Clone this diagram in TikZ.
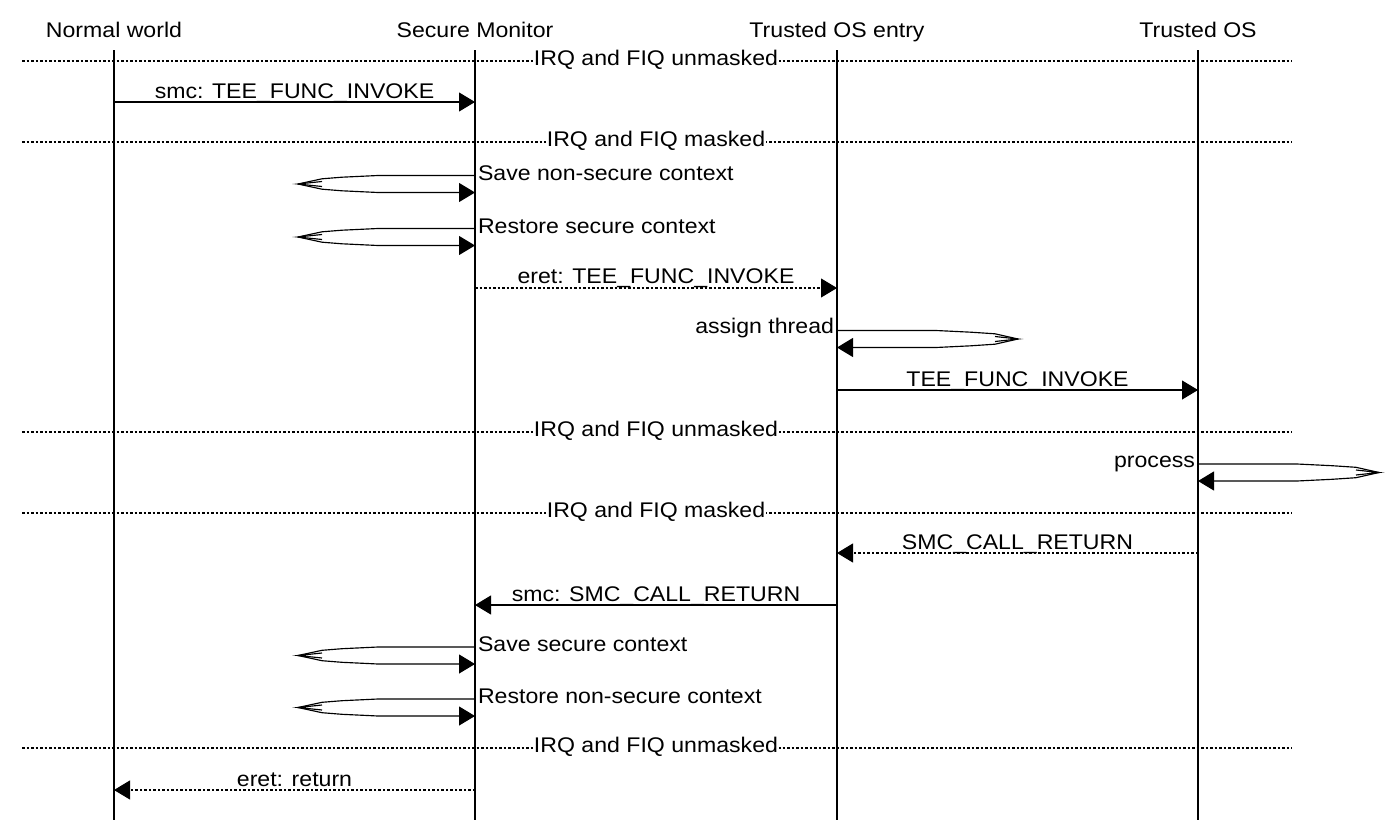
\documentclass[tikz,border=0pt]{standalone}
\usepackage{fontspec}
\setmainfont{Liberation Sans}[FakeStretch=1.09]
\usetikzlibrary{arrows.meta}
\begin{document}
\begin{tikzpicture}[x=1pt,y=-1pt,
  lbl/.style={font=\fontsize{21.2}{25}\selectfont, inner sep=0pt, outer sep=0pt},
  ln/.style={line width=1.15pt},
  tipstyle/.style={-{Triangle[length=16pt,width=19pt]}},
  msg/.style={ln, tipstyle},
  dmsg/.style={ln, tipstyle, dash pattern=on 2.5pt off 2pt},
  sepline/.style={ln, dash pattern=on 2.5pt off 2pt},
  seplbl/.style={lbl, fill=white, inner xsep=1pt, anchor=base},
  loopl/.pic={
    \draw[ln] (0,0) -- (-97,0) -- (-133,1.7) -- (-153,3.3) -- (-177,8.5);
    \draw[ln] (-153,6) -- (-177,8.5) -- (-153,11);
    \draw[msg] (-177,8.5) -- (-153,13.7) -- (-133,15.3) -- (-97,17) -- (0,17);
  },
  loopr/.pic={
    \draw[ln] (0,0) -- (99,0) -- (134,1.7) -- (158,3.3) -- (181,8.5);
    \draw[ln] (158,6) -- (181,8.5) -- (158,11);
    \draw[msg] (181,8.5) -- (158,13.7) -- (134,15.3) -- (99,17) -- (0,17);
  }
]
\useasboundingbox (0,0) rectangle (1400,835);

% headers
\node[lbl, anchor=base] (hnw) at (114,37) {Normal world};
\node[lbl, anchor=base] (hsm) at (475,37) {Secure Monitor};
\node[lbl, anchor=base] (hte) at (837,37) {Trusted OS entry};
\node[lbl, anchor=base] (hto) at (1198,37) {Trusted OS};

% lifelines
\coordinate (nwT) at (114,50);  \coordinate (nwB) at (114,820);
\coordinate (smT) at (475,50);  \coordinate (smB) at (475,820);
\coordinate (teT) at (837,50);  \coordinate (teB) at (837,820);
\coordinate (toT) at (1198,50); \coordinate (toB) at (1198,820);
\draw[ln] (nwT) -- (nwB);
\draw[ln] (smT) -- (smB);
\draw[ln] (teT) -- (teB);
\draw[ln] (toT) -- (toB);

% separators
\foreach \y/\t/\n in {61/unmasked/a, 142/masked/b, 432/unmasked/c, 513/masked/d, 748/unmasked/e}{
  \coordinate (sL\n) at (22,\y);
  \coordinate (sR\n) at (1292,\y);
  \draw[sepline] (sL\n) -- (sR\n);
  \node[seplbl] (sT\n) at (656,\y+4) {IRQ and FIQ \t};
}

% messages
\coordinate (m1a) at (114,102); \coordinate (m1b) at (475,102);
\draw[msg] (m1a) -- (m1b);
\node[lbl, anchor=base] (l1) at (294.5,98) {smc: TEE\_FUNC\_INVOKE};

\pic at (475,175.5) {loopl};
\node[lbl, anchor=base west] (l2) at (478,180) {Save non-secure context};

\pic at (475,228.5) {loopl};
\node[lbl, anchor=base west] (l3) at (478,233) {Restore secure context};

\coordinate (m4a) at (475,288); \coordinate (m4b) at (837,288);
\draw[dmsg] (m4a) -- (m4b);
\node[lbl, anchor=base] (l4) at (656,283) {eret: TEE\_FUNC\_INVOKE};

\pic at (837,330.5) {loopr};
\node[lbl, anchor=base east] (l5) at (834,333.5) {assign thread};

\coordinate (m6a) at (837,390); \coordinate (m6b) at (1198,390);
\draw[msg] (m6a) -- (m6b);
\node[lbl, anchor=base] (l6) at (1017.5,386) {TEE\_FUNC\_INVOKE};

\pic at (1198,464) {loopr};
\node[lbl, anchor=base east] (l7) at (1195,467) {process};

\coordinate (m8a) at (1198,553); \coordinate (m8b) at (837,553);
\draw[dmsg] (m8a) -- (m8b);
\node[lbl, anchor=base] (l8) at (1017.5,549) {SMC\_CALL\_RETURN};

\coordinate (m9a) at (837,605); \coordinate (m9b) at (475,605);
\draw[msg] (m9a) -- (m9b);
\node[lbl, anchor=base] (l9) at (656,601) {smc: SMC\_CALL\_RETURN};

\pic at (475,647) {loopl};
\node[lbl, anchor=base west] (l10) at (478,651.5) {Save secure context};

\pic at (475,699) {loopl};
\node[lbl, anchor=base west] (l11) at (478,703.5) {Restore non-secure context};

\coordinate (m12a) at (475,790); \coordinate (m12b) at (114,790);
\draw[dmsg] (m12a) -- (m12b);
\node[lbl, anchor=base] (l12) at (294.5,786) {eret: return};
\end{tikzpicture}
\end{document}
